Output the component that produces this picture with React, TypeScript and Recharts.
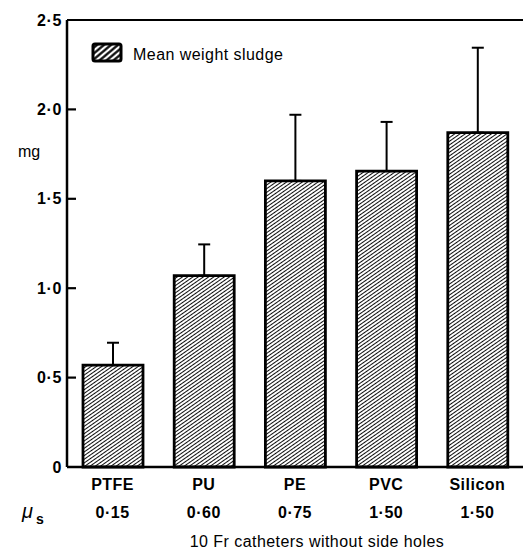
import React from 'react';
import { BarChart, Bar, XAxis, YAxis, ErrorBar, ReferenceLine } from 'recharts';

const categories = ['PTFE', 'PU', 'PE', 'PVC', 'Silicon'];
const frictionLabels = ['0·15', '0·60', '0·75', '1·50', '1·50'];
const meanWeight = [0.57, 1.07, 1.6, 1.655, 1.87];
const errorUpper = [0.125, 0.175, 0.37, 0.275, 0.475];
const yTicks = [0, 0.5, 1, 1.5, 2, 2.5];
const seriesName = 'Mean weight sludge';
const xTitle = '10 Fr catheters without side holes';
const yUnit = 'mg';

const data = categories.map((name, i) => ({
  name,
  value: meanWeight[i],
  err: [0, errorUpper[i]],
}));

const FONT = '"Liberation Sans", Arial, Helvetica, sans-serif';
const fmt = (v: number) => (v === 0 ? '0' : v.toFixed(1).replace('.', '·'));

const YTick = (props: any) => {
  const { x, y, payload } = props;
  const v = payload.value as number;
  return (
    <g>
      {v > 0 && v < 2.5 && (
        <line x1={x + 5} x2={x + 14} y1={y} y2={y} stroke="#000" strokeWidth={2.2} />
      )}
      <text x={x} y={y} dy={5.5} textAnchor="end" fontFamily={FONT} fontWeight="bold" fontSize={16} letterSpacing={0.6} fill="#000">
        {fmt(v)}
      </text>
    </g>
  );
};

const XTick = (props: any) => {
  const { x, y, payload } = props;
  const i = categories.indexOf(payload.value);
  return (
    <g>
      <text x={x} y={y + 23} textAnchor="middle" fontFamily={FONT} fontWeight="bold" fontSize={16} letterSpacing={0.5} fill="#000">
        {payload.value}
      </text>
      <text x={x} y={y + 51} textAnchor="middle" fontFamily={FONT} fontWeight="bold" fontSize={16} letterSpacing={0.5} fill="#000">
        {frictionLabels[i]}
      </text>
    </g>
  );
};

const XLabelContent = (props: any) => {
  const { x, y, width } = props.viewBox;
  return (
    <g>
      <text x={x - 45} y={y + 51} fontFamily={FONT} fontStyle="italic" fontSize={20} fill="#000">μ</text>
      <text x={x - 31} y={y + 57} fontFamily={FONT} fontWeight="bold" fontSize={14} fill="#000">s</text>
      <text x={x + width / 2 + 22} y={y + 80} textAnchor="middle" fontFamily={FONT} fontSize={16} letterSpacing={0.45} fill="#000">
        {xTitle}
      </text>
    </g>
  );
};

const YLabelContent = (props: any) => {
  const { x, y, width } = props.viewBox;
  return (
    <g>
      <text x={x + 18} y={y + 137} fontFamily={FONT} fontSize={16} fill="#000">{yUnit}</text>
      <rect x={x + width + 26} y={y + 24} width={28} height={17} rx={2} fill="url(#legendHatch)" stroke="#000" strokeWidth={3} />
      <text x={x + width + 66} y={y + 39.5} fontFamily={FONT} fontSize={16} letterSpacing={0.45} fill="#000">{seriesName}</text>
    </g>
  );
};

export default function App() {
  return (
    <div style={{ position: 'absolute', left: 0, top: 0, background: '#fff' }}>
      <BarChart width={528} height={551} data={data} margin={{ top: 20, right: 5, bottom: 0, left: 0 }}>
        <defs>
          <pattern id="barHatch" patternUnits="userSpaceOnUse" width={6} height={3} patternTransform="rotate(-35)">
            <rect width={6} height={3} fill="#fff" />
            <line x1={0} x2={6} y1={1.5} y2={1.5} stroke="#000" strokeWidth={0.95} />
          </pattern>
          <pattern id="legendHatch" patternUnits="userSpaceOnUse" width={6} height={4.5} patternTransform="rotate(-40)">
            <rect width={6} height={4.5} fill="#fff" />
            <line x1={0} x2={6} y1={2.25} y2={2.25} stroke="#000" strokeWidth={2.2} />
          </pattern>
        </defs>
        <XAxis
          dataKey="name"
          interval={0}
          height={84}
          tickLine={false}
          tickSize={0}
          tickMargin={0}
          axisLine={{ stroke: '#000', strokeWidth: 2.5 }}
          tick={XTick}
          label={XLabelContent}
        />
        <YAxis
          width={67}
          domain={[0, 2.5]}
          ticks={yTicks}
          interval={0}
          tickLine={false}
          tickSize={0}
          tickMargin={5}
          axisLine={{ stroke: '#000', strokeWidth: 2.5 }}
          tick={YTick}
          label={YLabelContent}
        />
        <YAxis
          yAxisId="right"
          orientation="right"
          width={0}
          domain={[0, 2.5]}
          tick={false}
          tickLine={false}
          axisLine={{ stroke: '#000', strokeWidth: 2 }}
        />
        <ReferenceLine y={2.5} stroke="#000" strokeWidth={2} />
        <Bar dataKey="value" fill="url(#barHatch)" stroke="#000" strokeWidth={2.8} barSize={60} isAnimationActive={false}>
          <ErrorBar dataKey="err" width={6} stroke="#000" strokeWidth={2} direction="y" isAnimationActive={false} />
        </Bar>
      </BarChart>
    </div>
  );
}
